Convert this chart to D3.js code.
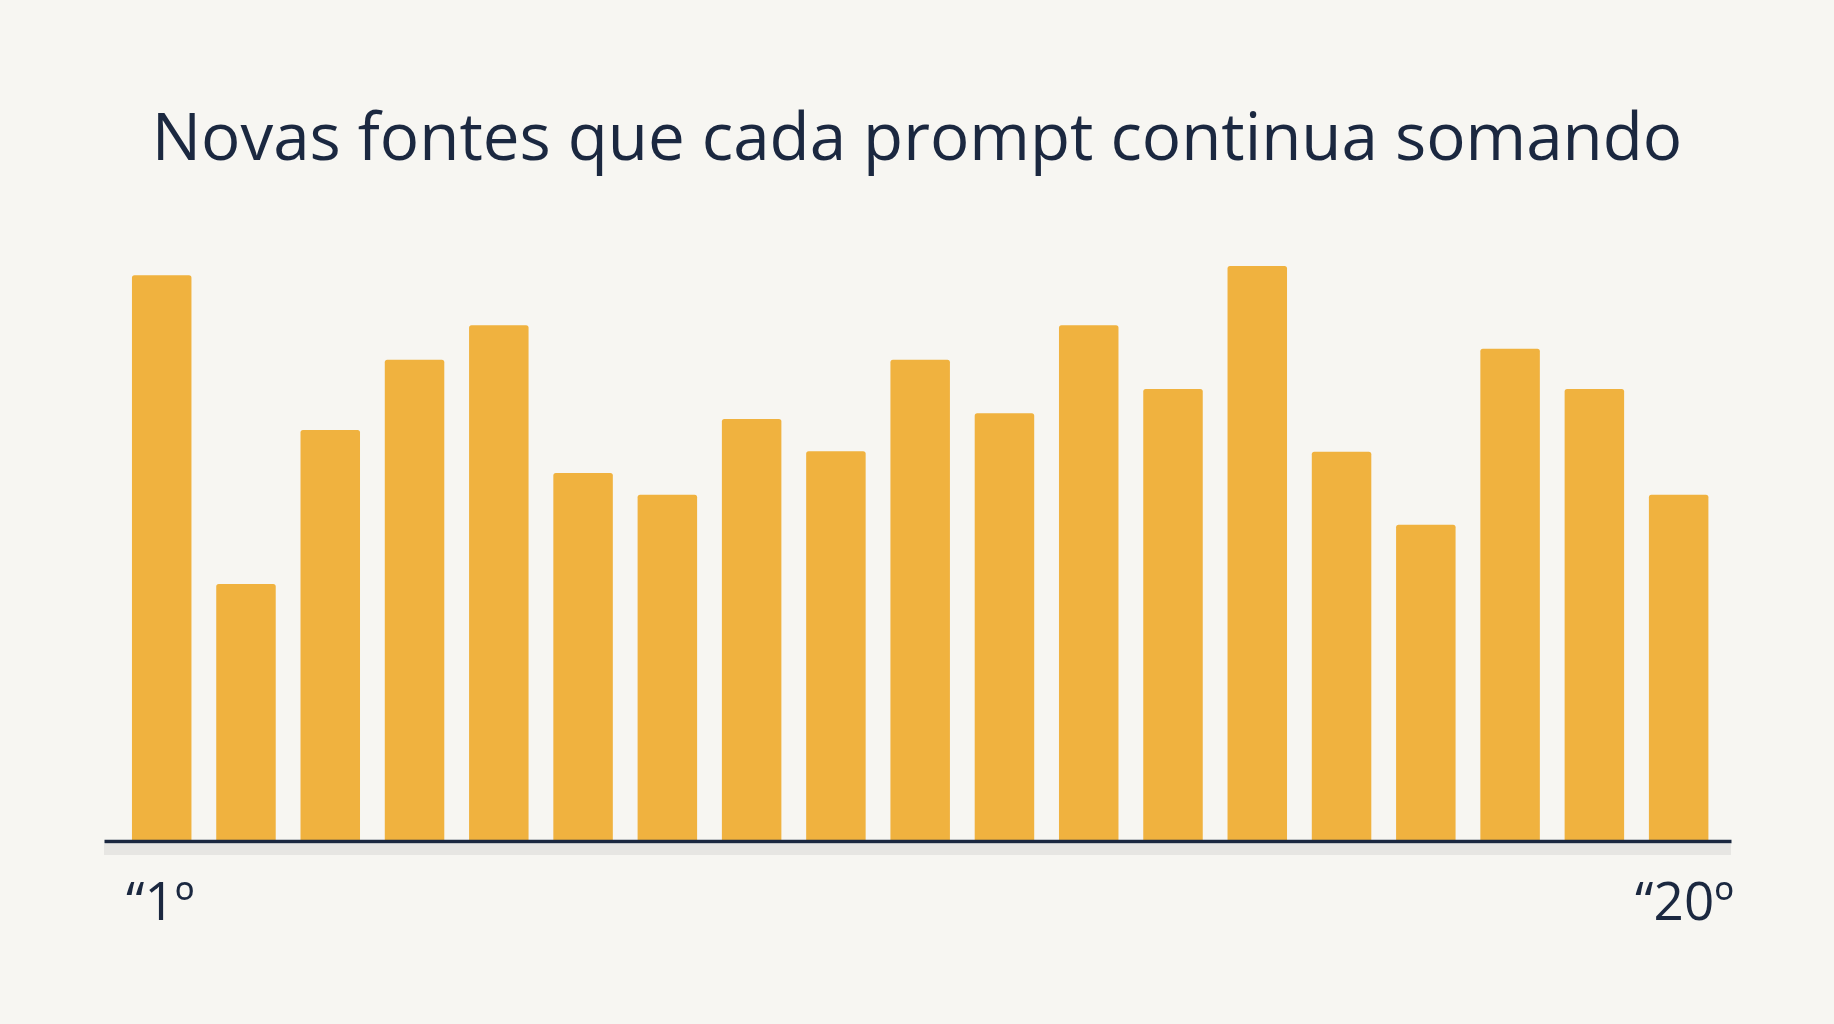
<!DOCTYPE html>
<html>
<head>
<meta charset="utf-8">
<script src="https://cdn.jsdelivr.net/npm/d3@7"></script>
<style>
  html, body { margin: 0; padding: 0; background: #f7f6f2; }
  svg { display: block; }
</style>
</head>
<body>
<svg id="chart" width="1834" height="1024"></svg>
<script>
const titleText = "Novas fontes que cada prompt continua somando";
const categories = ["1","2","3","4","5","6","7","8","9","10","11","12","13","14","15","16","17","18","19"];
const values = [98.4, 44.7, 71.5, 83.7, 89.7, 64.0, 60.2, 73.4, 67.8, 83.7, 74.4, 89.7, 78.6, 100.0, 67.7, 55.0, 85.6, 78.6, 60.2];
const tickLabels = ["\u201C1º", "\u201C20º"];

const W = 1834, H = 1024;
const svg = d3.select("#chart");
svg.append("rect").attr("width", W).attr("height", H).attr("fill", "#f7f6f2");

const baseY = 841;
const x = d3.scaleBand().domain(categories).range([104, 1731])
  .paddingInner(0.294).paddingOuter(0.30).align(0.553);
const y = d3.scaleLinear().domain([0, 100]).range([baseY, 266]);

// title
svg.append("text")
  .attr("x", 917).attr("y", 160)
  .attr("text-anchor", "middle")
  .attr("font-family", "'Open Sans', sans-serif")
  .attr("font-size", 65.5)
  .attr("fill", "#1b2840")
  .text(titleText);

// soft band under axis
svg.append("rect")
  .attr("x", 104).attr("y", baseY + 3)
  .attr("width", 1731 - 104).attr("height", 11)
  .attr("fill", "#e7e6e3");

// bars
svg.append("g").selectAll("path")
  .data(values)
  .join("path")
  .attr("fill", "#f0b23f")
  .attr("d", (d, i) => {
    const x0 = x(categories[i]), w = x.bandwidth(), y0 = y(d), r = 2.5;
    return `M${x0},${baseY}V${y0 + r}Q${x0},${y0} ${x0 + r},${y0}H${x0 + w - r}Q${x0 + w},${y0} ${x0 + w},${y0 + r}V${baseY}Z`;
  });

// axis line
const axis = d3.axisBottom(x).tickSize(0).tickFormat("");
const gAxis = svg.append("g").attr("transform", `translate(0,${baseY})`).call(axis);
gAxis.select(".domain").attr("stroke", "#1b2840").attr("stroke-width", 3.5);

// end labels
svg.append("text")
  .attr("x", 126).attr("y", 920)
  .attr("text-anchor", "start")
  .attr("font-family", "'Open Sans', sans-serif")
  .attr("font-size", 53)
  .attr("fill", "#1b2840")
  .text(tickLabels[0]);
svg.append("text")
  .attr("x", 1734).attr("y", 920)
  .attr("text-anchor", "end")
  .attr("font-family", "'Open Sans', sans-serif")
  .attr("font-size", 53)
  .attr("fill", "#1b2840")
  .text(tickLabels[1]);
</script>
</body>
</html>
